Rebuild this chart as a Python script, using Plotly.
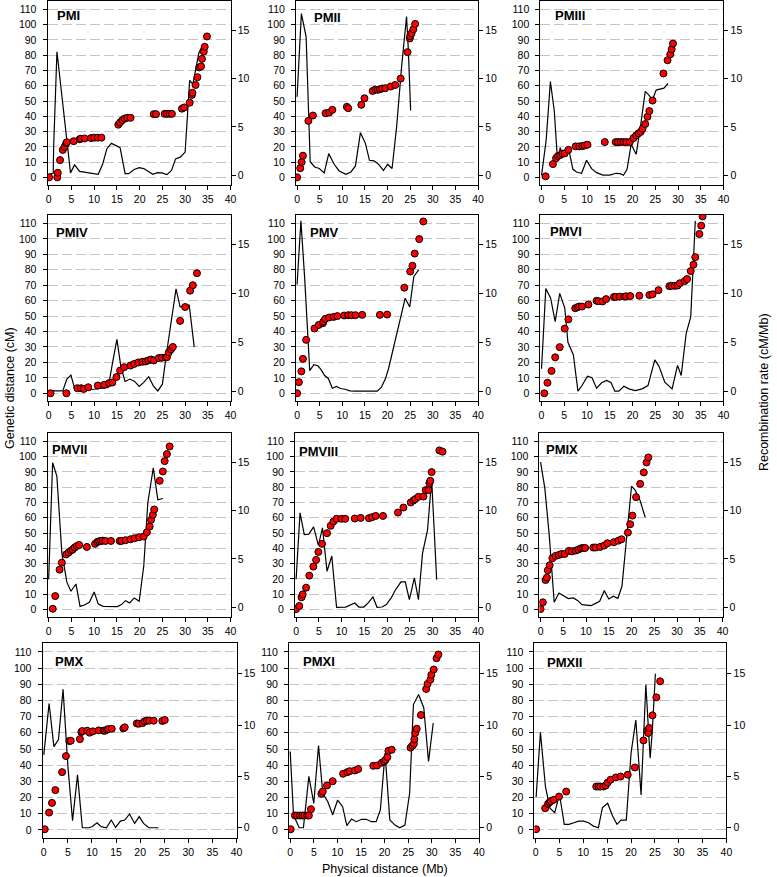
import plotly.graph_objects as go

# ---- data: marker positions (Mb) and genetic distance (cM), recombination rate line (cM/Mb)
pm1_pos = [0.1, 1.9, 2.0, 2.5, 3.1, 3.5, 3.85, 4.0, 5.5, 6.8, 7.1, 7.9, 9.3, 10.0, 10.8, 11.6, 15.3, 15.7, 16.2, 16.7, 17.3, 18.0,
           23.1, 23.6, 25.5, 26.0, 26.6, 27.1, 29.3, 29.8, 31.0, 31.5, 31.6, 32.3, 32.7, 33.1, 33.5, 33.7, 34.1, 34.3, 34.8]
pm1_cm = [0, 0, 3, 11.3, 18, 20, 22.4, 23, 23.7, 25, 25.3, 25.5, 25.7, 26, 26, 26, 34.5, 36, 37.5, 38.5, 39, 39,
          41.4, 41.4, 41.6, 41.6, 41.6, 41.6, 45, 45.8, 48.9, 54, 55.4, 60.5, 65.6, 72, 72.7, 77.6, 82.4, 85.5, 92.3]
pm1_rpos = [0, 1.0, 1.1, 1.82, 4.8, 5.7, 6.8, 8.6, 9.7, 10.9, 11.9, 12.8, 13.8, 14.7, 15.7, 16.8, 17.6, 18.8, 19.9, 20.9,
            22.0, 22.9, 23.9, 24.9, 26.0, 27.0, 27.9, 29.0, 30.0, 31.0, 31.7, 33.0, 33.6]
pm1_rate = [0.1, 0.2, 3.0, 12.76, 0.25, 1.07, 0.4, 0.25, 0.15, 0.1, 1.2, 2.75, 3.3, 3.1, 2.85, 0.17, 0.17, 0.6, 0.8, 0.7,
            0.4, 0.1, 0.27, 0.25, 0.07, 0.5, 1.7, 1.9, 2.4, 9.8, 9.4, 12.6, 13.2]

pm2_pos = [0, 0.7, 1.0, 1.3, 2.5, 3.5, 6.3, 7.1, 7.8, 11.0, 11.3, 14.2, 14.9, 16.7, 17.3, 17.8, 18.3, 18.8, 19.5, 20.7,
           21.7, 22.9, 24.4, 24.9, 25.0, 25.3, 25.7, 26.1]
pm2_cm = [0, 6, 10, 14.2, 37, 40.5, 42, 42.5, 44.2, 46.2, 45.3, 47.5, 51.8, 56.6, 57.5, 57.3, 57.7, 58.2, 58.4, 59.5,
          60.5, 64.7, 82, 91, 92.5, 94.3, 97, 100.5]
pm2_rpos = [0, 0.95, 2.0, 2.9, 3.9, 4.9, 6.0, 7.0, 8.2, 9.3, 10.8, 11.9, 12.9, 14.0, 15.1, 16.0, 17.0, 17.9, 19.1, 20.0,
            21.0, 22.0, 23.1, 24.2, 24.6, 25.1]
pm2_rate = [8.1, 16.7, 14.3, 1.4, 0.86, 0.7, 0.24, 2.24, 1.14, 0.45, 0.1, 0.35, 0.97, 4.4, 3.3, 1.55, 1.5, 1.2, 0.5, 1.14,
            0.7, 5.0, 11.2, 16.4, 12.9, 6.7]

pm3_pos = [0.9, 2.5, 3.2, 3.6, 4.1, 4.6, 5.1, 5.9, 7.5, 8.3, 9.0, 9.5, 10.1, 13.9, 16.3, 16.8, 17.4, 18.0, 18.6, 19.4,
           20.2, 20.8, 21.3, 21.8, 22.2, 22.8, 23.3, 23.7, 24.4, 26.8, 27.7, 28.3, 28.6, 28.9]
pm3_cm = [0.7, 8.7, 12.6, 14, 14.6, 15.5, 15.7, 18, 20.3, 20.3, 20.5, 20.9, 21.4, 23.1, 23.1, 23.1, 23.1, 23.1, 23.1, 23.1,
          25.7, 27.5, 28.8, 29.8, 31.8, 34.9, 39.7, 43.4, 50.3, 68, 76.7, 80.6, 83.9, 87.6]
pm3_rpos = [0, 1.0, 1.95, 2.8, 3.4, 3.76, 4.1, 4.7, 5.2, 5.9, 6.9, 7.7, 8.8, 9.9, 11.0, 12.1, 13.5, 15.0, 16.4, 17.3,
            18.0, 18.8, 19.7, 20.8, 21.8, 22.8, 23.6, 24.4, 25.2, 26.0, 26.9, 27.8]
pm3_rate = [0, 3.55, 9.69, 6.66, 2.34, 1.83, 2.86, 2.1, 2.59, 2.86, 0.62, 0.34, 0.21, 1.55, 0.69, 0.28, 0.03, 0.03, 0.21, 0.17,
            0, 0.62, 3.2, 2.17, 5.2, 8.66, 8.28, 7.8, 8.8, 8.86, 9.0, 9.48]

pm4_pos = [0.4, 3.9, 6.3, 7.1, 7.7, 8.7, 10.8, 12.2, 13.3, 14.0, 14.9, 15.7, 16.6, 18.0, 18.8, 19.7, 20.6, 21.3, 21.9, 22.5,
           23.1, 24.2, 24.9, 25.7, 26.0, 26.4, 26.9, 27.3, 28.9, 30.0, 31.1, 31.7, 32.6]
pm4_cm = [0, 0, 3.3, 3.3, 2.8, 3.9, 5.0, 5.5, 6.6, 7.0, 10.5, 14.7, 16.9, 18, 19, 20, 20.4, 20.6, 21.3, 21.9,
          21.3, 22.8, 23, 23.2, 23.4, 26.5, 28.5, 30, 46.9, 55.9, 66.5, 70, 77.8]
pm4_rpos = [0, 3.1, 4.0, 4.9, 5.8, 8.2, 10.0, 11.5, 13.1, 14.0, 15.0, 15.9, 16.8, 17.9, 18.9, 19.9, 20.9, 22.0, 23.0, 24.0,
            25.0, 26.0, 26.9, 28.0, 28.9, 29.9, 30.9, 32.0]
pm4_rate = [0.03, 0.03, 1.24, 1.65, 0.1, 0.1, 0.2, 0.3, 0.38, 2.8, 5.3, 2.44, 1.0, 1.24, 1.0, 0.48, 0.9, 1.48, 0.55, 0.03,
            0.72, 4.16, 6.9, 10.46, 8.6, 8.8, 8.8, 4.5]

pm5_pos = [0, 0.4, 0.95, 1.3, 2.0, 3.85, 4.8, 5.7, 5.8, 6.2, 7.1, 8.1, 8.9, 10.4, 11.3, 12.0, 12.9, 14.4, 18.3, 19.9,
           23.7, 25.0, 25.5, 26.0, 27.0, 27.9]
pm5_cm = [0, 7.2, 14.2, 22.3, 34.6, 42, 44.3, 45.4, 46.4, 48.2, 49.1, 49.5, 50, 50.4, 50.6, 50.6, 50.6, 50.8, 50.8, 51,
          68.4, 78.9, 82.6, 90.5, 99.9, 111.3]
pm5_rpos = [0, 0.85, 1.7, 2.8, 3.7, 4.6, 5.3, 6.1, 6.9, 7.8, 8.7, 9.6, 10.6, 11.7, 12.8, 14.5, 16.3, 17.7, 18.6, 19.5,
            20.2, 21.3, 22.4, 23.9, 24.9, 25.8, 26.4, 26.9]
pm5_rate = [10.9, 17.4, 11.4, 2.1, 2.7, 2.6, 2.2, 1.6, 1.3, 0.3, 0.48, 0.28, 0.2, 0.03, 0, 0, 0, 0, 0.38, 1.24,
            2.27, 4.5, 6.7, 9.5, 8.6, 11.7, 12.1, 12.4]

pm6_pos = [0.6, 1.3, 2.2, 3.0, 4.0, 5.1, 5.9, 7.4, 7.9, 8.3, 8.9, 10.3, 12.1, 12.5, 13.4, 14.2, 15.9, 16.3, 17.2, 18.2,
           18.6, 19.5, 21.5, 23.7, 24.4, 25.7, 28.1, 28.6, 29.3, 29.9, 30.4, 31.5, 32.0, 32.8, 33.4, 33.8, 34.7, 35.1, 35.4]
pm6_cm = [0, 6.8, 14.5, 23.3, 29.9, 41.9, 47.9, 55.1, 55.8, 56.2, 56.2, 57.5, 59.9, 59.7, 59.5, 61, 62.4, 62.4, 62.6, 62.6,
          62.8, 63, 63.2, 63.7, 64.1, 66.8, 69.4, 69.6, 69.6, 69.8, 71.3, 72.8, 74, 79.2, 83.3, 88.2, 103.2, 108.6, 114.6]
pm6_rpos = [0, 0.94, 2.0, 3.0, 4.0, 5.1, 5.8, 7.0, 8.0, 8.9, 10.1, 11.1, 12.1, 13.2, 14.3, 15.3, 16.1, 17.0, 18.1, 19.2,
            20.6, 22.1, 23.4, 24.9, 25.8, 27.1, 28.7, 29.9, 30.7, 31.8, 32.8, 33.8]
pm6_rate = [2.3, 10.5, 9.5, 7.1, 10.0, 8.5, 5.0, 3.7, 0, 0.58, 1.54, 1.37, 0.31, 0.86, 1.1, 0.86, 0, 0, 0.51, 0.24,
            0.07, 0.24, 0.58, 3.2, 2.57, 0.93, 0.24, 2.64, 1.6, 5.9, 7.6, 17.4]

pm7_pos = [0.9, 1.45, 2.4, 2.9, 3.85, 4.4, 4.9, 5.3, 5.7, 6.2, 6.7, 8.4, 10.2, 10.7, 11.1, 11.5, 11.9, 12.5, 13.7, 15.6,
           16.0, 16.9, 18.0, 18.9, 19.9, 20.9, 21.6, 22.2, 22.5, 22.9, 23.2, 24.4, 25.1, 25.5, 26.0, 26.6]
pm7_cm = [0.4, 8.7, 26, 30.6, 36, 37.2, 38.5, 39.2, 40.5, 41.5, 42.2, 40.9, 42.9, 44.2, 44.6, 44.8, 45, 44.8, 44.8, 44.8,
          44.8, 45.3, 45.9, 46.6, 47.2, 47.7, 50.5, 54.2, 58.6, 61.9, 65.4, 84.2, 90.3, 97.1, 101.7, 106.7]
pm7_rpos = [0, 0.87, 1.8, 2.9, 4.0, 4.9, 6.0, 6.9, 7.85, 8.95, 10.0, 10.9, 12.0, 13.8, 15.1, 16.0, 16.9, 17.8, 18.8, 19.9,
            20.9, 21.8, 23.0, 24.0, 25.1]
pm7_rate = [2.9, 14.93, 13.55, 5.6, 2.6, 1.66, 2.41, 0.1, 0.24, 0.52, 1.59, 0.34, 0.1, 0.07, 0.07, 0.28, 0.69, 0.45, 0.97, 0.62,
            4.24, 10.8, 14.4, 11.1, 11.24]

pm8_pos = [0, 0.7, 1.2, 1.45, 2.2, 2.9, 3.8, 4.4, 4.9, 5.7, 6.8, 7.6, 8.2, 8.9, 10.0, 10.8, 12.9, 14.2, 16.0, 16.7,
           17.5, 19.1, 22.4, 23.6, 25.2, 25.8, 26.2, 26.9, 28.0, 28.5, 29.1, 29.3, 29.5, 29.8, 31.5, 32.2]
pm8_cm = [0.2, 2.2, 7.9, 9.8, 14.2, 22.1, 28, 32.4, 37.6, 42.9, 49.9, 54.7, 57.5, 59.3, 59.3, 59.3, 59.5, 59.9, 59.7, 60.4,
          61.2, 61.2, 63.4, 66.7, 70, 71.3, 72.2, 73.7, 73.9, 78.1, 78.1, 82.7, 84.2, 89.9, 104.1, 103.3]
pm8_rpos = [0, 0.87, 1.8, 2.8, 3.85, 4.9, 5.8, 6.8, 7.85, 8.9, 10.9, 12.9, 13.8, 14.9, 15.85, 16.9, 17.8, 18.9, 19.85, 20.9,
            21.8, 23.05, 24.0, 24.9, 26.0, 26.9, 27.8, 28.9, 29.8, 30.9]
pm8_rate = [2.9, 9.76, 7.5, 7.55, 8.3, 6.4, 8.2, 3.72, 5.3, 0, 0.03, 0.45, 0.03, 0.03, 0.45, 1.07, 0, 0.03, 0.28, 0.97,
            1.76, 2.62, 2.62, 0.79, 3.03, 0.79, 5.6, 8.0, 13.2, 2.86]

pm9_pos = [0, 0.5, 1.1, 1.4, 1.6, 2.0, 2.6, 3.3, 4.0, 4.6, 5.3, 6.2, 6.9, 7.7, 8.3, 8.9, 9.4, 9.8, 11.6, 12.1,
           13.1, 14.0, 14.7, 16.1, 17.1, 17.8, 19.2, 19.7, 20.2, 21.0, 21.9, 22.7, 23.3, 23.7]
pm9_cm = [0.2, 4.6, 19.2, 20.8, 25.6, 28.9, 33.5, 35, 35.6, 36.3, 36.3, 38.3, 38, 38.5, 39.1, 40, 40.2, 40.2, 40.5, 40.5,
          40.9, 41.8, 43.3, 44, 45, 45.9, 50.3, 55.8, 61.4, 73.5, 82.2, 89.7, 96.2, 99.5]
pm9_rpos = [0, 0.94, 1.9, 3.0, 4.05, 5.1, 6.1, 7.2, 8.2, 9.1, 10.1, 11.1, 12.0, 13.0, 14.0, 15.0, 16.0, 17.0, 17.9, 19.0,
            20.0, 20.8, 21.9, 23.0]
pm9_rate = [15.0, 12.3, 7.5, 0.52, 1.48, 1.14, 0.9, 0.97, 0.69, 0.28, 0.24, 0.17, 0.38, 0.62, 1.72, 0.86, 1.14, 0.93, 2.17, 7.41,
            12.5, 12.1, 11.0, 9.3]

pm10_pos = [0.2, 1.1, 1.7, 2.4, 3.8, 4.6, 5.3, 5.6, 7.5, 7.8, 8.0, 9.0, 9.5, 10.2, 11.4, 12.4, 12.7, 13.1, 13.4, 14.1,
            16.5, 16.8, 19.3, 19.7, 20.5, 20.9, 21.4, 21.9, 22.8, 24.6, 25.1]
pm10_cm = [0.4, 10.7, 16.7, 24.6, 35.7, 45.6, 54.9, 55.1, 56.1, 60.5, 61.1, 61.3, 60.1, 60.9, 61.5, 61.3, 61.3, 61.9, 62.3, 62.5,
           62.7, 63.4, 65.8, 65.6, 66, 67.1, 67.5, 67.5, 67.5, 67.3, 67.9]
pm10_rpos = [0, 1.1, 2.1, 3.05, 4.0, 5.0, 5.97, 7.0, 8.0, 9.35, 10.0, 11.05, 11.9, 13.0, 14.0, 14.9, 15.9, 16.8, 17.8, 18.85,
             19.8, 20.7, 21.8, 22.9, 23.8]
pm10_rate = [7.1, 12.1, 7.9, 8.6, 13.5, 6.0, 0.68, 5.15, 0, 0, 0.1, 0.49, 0.1, 0, 0.75, 0.03, 0.65, 0.75, 1.34, 0.42,
             1.08, 0.42, 0, 0, 0]

pm11_pos = [0.1, 1.0, 1.5, 2.1, 2.6, 3.0, 3.6, 3.95, 4.4, 6.6, 6.9, 7.8, 9.0, 11.2, 12.1, 12.6, 13.7, 14.4, 17.6, 18.4,
            19.4, 19.9, 20.2, 20.6, 20.8, 21.5, 25.5, 25.9, 26.2, 26.3, 26.5, 26.8, 27.7, 28.8, 29.1, 29.7, 29.9, 30.4,
            31.0, 31.4]
pm11_cm = [0.4, 8.9, 8.9, 8.9, 8.9, 8.9, 8.9, 8.9, 12.8, 22.3, 23.7, 27.5, 30.1, 34.7, 35.7, 36.3, 36.7, 37.6, 39.6, 39.8,
           41.5, 42.3, 43.3, 45, 48.9, 49.5, 50.8, 52, 53.3, 55.9, 59.9, 62.5, 71, 87.1, 90.2, 92.9, 95.8, 99.1,
           106.1, 108.4]
pm11_rpos = [0, 0.7, 1.9, 2.8, 3.95, 5.0, 6.0, 6.9, 7.97, 9.0, 10.05, 11.1, 12.0, 13.0, 14.0, 15.1, 16.1, 17.2, 18.2, 19.1,
             20.1, 21.1, 22.2, 23.2, 24.3, 25.3, 26.1, 27.2, 28.3, 29.3, 30.3]
pm11_rate = [7.43, 1.24, 0, 0, 5.0, 2.38, 8.0, 3.36, 2.54, 1.27, 2.7, 2.05, 0.2, 0.85, 0.59, 0.82, 0.82, 0.59, 0.59, 1.73,
             7.27, 0.75, 0.26, 0, 0.26, 3.36, 12.0, 12.98, 11.67, 6.46, 10.2]

pm12_pos = [0.1, 2.0, 2.6, 2.9, 3.2, 3.8, 4.9, 6.4, 12.7, 13.2, 13.6, 14.2, 14.7, 15.1, 15.7, 16.8, 17.8, 19.3, 20.8, 22.6,
            23.4, 23.6, 23.8, 24.5, 25.3, 26.1]
pm12_cm = [0.4, 13.4, 16.1, 17.1, 17.8, 18.6, 20.6, 23.7, 26.8, 26.8, 26.8, 26.8, 27.5, 29.3, 31, 32.4, 33, 34.1, 38.6, 55.3,
           61.5, 59.9, 63, 70.8, 81.9, 91.8]
pm12_rpos = [0.1, 1.0, 2.05, 3.0, 4.0, 5.0, 6.0, 7.0, 8.0, 9.0, 10.05, 11.1, 12.1, 13.15, 14.0, 15.1, 16.1, 17.05, 17.9, 19.0,
             20.0, 21.0, 22.1, 23.1, 24.0, 24.45, 25.1]
pm12_rate = [3.0, 9.3, 4.0, 1.9, 1.47, 3.26, 0.33, 0.33, 0.49, 0.65, 0.65, 0.49, 0.16, 0, 1.96, 2.38, 1.17, 0.33, 0.75, 0.75,
             7.27, 10.5, 3.2, 13.95, 6.78, 9.39, 15.0]

names = ["PMI", "PMII", "PMIII", "PMIV", "PMV", "PMVI", "PMVII", "PMVIII", "PMIX", "PMX", "PMXI", "PMXII"]
x_ticks = [0, 5, 10, 15, 20, 25, 30, 35, 40]
cm_ticks = [0, 10, 20, 30, 40, 50, 60, 70, 80, 90, 100, 110]
rate_ticks = [0, 5, 10, 15]

panels = [
    (pm1_pos, pm1_cm, pm1_rpos, pm1_rate), (pm2_pos, pm2_cm, pm2_rpos, pm2_rate),
    (pm3_pos, pm3_cm, pm3_rpos, pm3_rate), (pm4_pos, pm4_cm, pm4_rpos, pm4_rate),
    (pm5_pos, pm5_cm, pm5_rpos, pm5_rate), (pm6_pos, pm6_cm, pm6_rpos, pm6_rate),
    (pm7_pos, pm7_cm, pm7_rpos, pm7_rate), (pm8_pos, pm8_cm, pm8_rpos, pm8_rate),
    (pm9_pos, pm9_cm, pm9_rpos, pm9_rate), (pm10_pos, pm10_cm, pm10_rpos, pm10_rate),
    (pm11_pos, pm11_cm, pm11_rpos, pm11_rate), (pm12_pos, pm12_cm, pm12_rpos, pm12_rate),
]

# ---- layout (pixels of the 777x877 page)
W, H = 777, 877
rows_px = [(1, 185), (215, 401), (433, 617), (643, 838)]
cols_px = [[(46, 231), (297, 481), (544, 729)],
           [(46, 231), (297, 481), (544, 729)],
           [(46, 231), (296, 481), (543, 728)],
           [(41, 237), (290, 482), (538, 732)]]
label_px = [(54, 16), (313, 17), (557, 16), (53, 233), (309, 233), (552, 232),
            (48, 449), (298, 452), (548, 449), (52, 661), (302, 661), (549, 662)]

FONT = "Liberation Sans, Arial, Helvetica, sans-serif"
fig = go.Figure()
layout = {}
annotations = []

for i, (pos, cm, rpos, rate) in enumerate(panels):
    n = i + 1
    sfx = "" if n == 1 else str(n)
    r, c = divmod(i, 3)
    x0, x1 = cols_px[r][c]
    y0, y1 = rows_px[r]
    xd = [x0 / W, x1 / W]
    yd = [1 - y1 / H, 1 - y0 / H]
    xa = "x" + sfx
    ya_rate = "y" + sfx
    ya_cm = "y" + str(n + 12)

    # rate line on the base axis, markers on the overlaying axis so they sit on top
    fig.add_trace(go.Scatter(x=rpos, y=rate, mode="lines", line=dict(color="black", width=1.2),
                             xaxis=xa, yaxis=ya_rate, showlegend=False, hoverinfo="skip"))
    fig.add_trace(go.Scatter(x=pos, y=cm, mode="markers",
                             marker=dict(color="#ff0000", size=7, line=dict(color="black", width=1)),
                             xaxis=xa, yaxis=ya_cm, showlegend=False))

    common = dict(showline=True, linecolor="black", linewidth=1, ticks="outside", ticklen=4,
                  tickcolor="black", tickwidth=1, zeroline=False,
                  tickfont=dict(family=FONT, size=10.5, color="black"))
    layout["xaxis" + sfx] = dict(domain=xd, anchor=ya_rate, range=[-0.25, 40], tickvals=x_ticks,
                                 mirror=True, showgrid=False, **common)
    layout["yaxis" + sfx] = dict(domain=yd, anchor=xa, side="right", range=[-1, 18], tickvals=rate_ticks,
                                 showgrid=False, **common)
    layout["yaxis" + str(n + 12)] = dict(overlaying=ya_rate, anchor=xa, side="left", range=[-5, 115.5],
                                         tickvals=cm_ticks, showgrid=True, gridcolor="#c4c4c4", gridwidth=1,
                                         griddash="10px,4px", ticklabelstandoff=4, **common)
    lx, ly = label_px[i]
    annotations.append(dict(text="<b>%s</b>" % names[i], x=lx / W, y=1 - ly / H, xref="paper", yref="paper",
                            xanchor="left", yanchor="middle", showarrow=False,
                            font=dict(family=FONT, size=13, color="black")))

annotations.append(dict(text="Genetic distance (cM)", x=8 / W, y=1 - 388 / H, xref="paper", yref="paper",
                        textangle=-90, showarrow=False, xanchor="center", yanchor="middle",
                        font=dict(family=FONT, size=12.5, color="black")))
annotations.append(dict(text="Recombination rate (cM/Mb)", x=770 / W, y=1 - 392 / H, xref="paper", yref="paper",
                        textangle=-90, showarrow=False, xanchor="center", yanchor="middle",
                        font=dict(family=FONT, size=12.5, color="black")))
annotations.append(dict(text="Physical distance (Mb)", x=387 / W, y=1 - 869 / H, xref="paper", yref="paper",
                        showarrow=False, xanchor="center", yanchor="middle",
                        font=dict(family=FONT, size=12.5, color="black")))

fig.update_layout(width=W, height=H, margin=dict(l=0, r=0, t=0, b=0), paper_bgcolor="white",
                  plot_bgcolor="white", annotations=annotations, **layout)
# drop the page's default body margin so the figure sits at the window's corner
fig.write_html("out.html", config={"displayModeBar": False},
               post_script="document.body.style.margin='0';")
